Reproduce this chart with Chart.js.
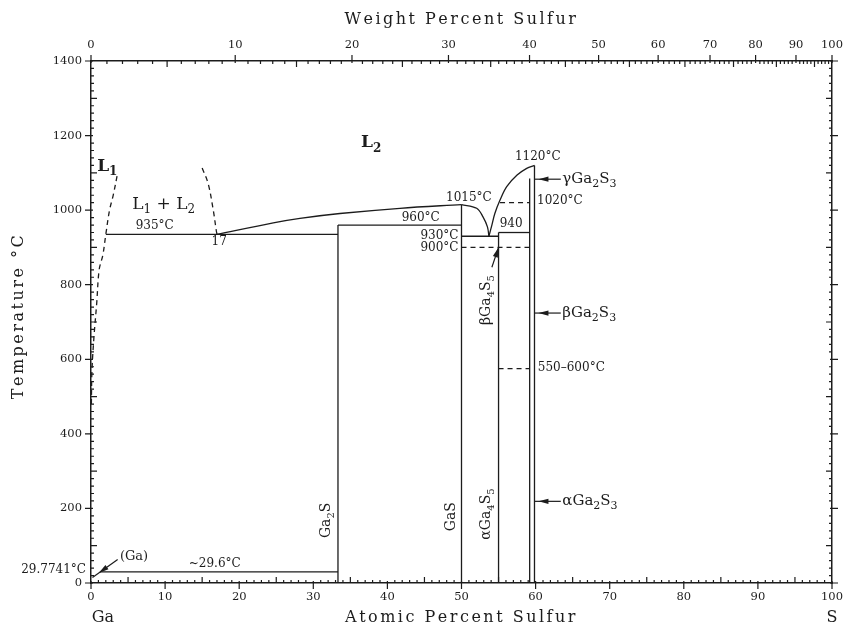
<!DOCTYPE html>
<html>
<head>
<meta charset="utf-8">
<script src="https://cdn.jsdelivr.net/npm/chart.js@4.4.1/dist/chart.umd.min.js"></script>
<style>
  html, body { margin: 0; padding: 0; background: #fff; }
  #wrap { width: 845px; height: 629px; }
</style>
</head>
<body>
<div id="wrap"><canvas id="chart"></canvas></div>
<script>
// Ga–S phase diagram, every point is [at.% S, temperature °C]

// liquid miscibility gap (dashed)
const l1Boundary = [[0.05, 480], [0.13, 570], [0.4, 660], [0.77, 750], [1.1, 840], [1.6, 880], [2.0, 935], [2.5, 1000], [3.0, 1040], [3.6, 1100]];
const l2Boundary = [[15.0, 1113], [15.8, 1072], [16.5, 1000], [16.9, 946], [17.0, 935]];

// liquidus branches
const liquidusGa2S = [[17.0, 935], [24.6, 966], [28.2, 978], [33.6, 991], [41.7, 1005], [50.0, 1015]];
const liquidusGaS = [[50.0, 1015], [52.05, 1005], [52.9, 982], [53.5, 955], [53.7, 930]];
const liquidusGa2S3 = [[53.7, 930], [54.1, 960], [54.5, 991], [55.2, 1027], [56.1, 1063], [57.5, 1094], [58.8, 1112], [59.85, 1120]];

// compounds
const ga2sLine = [[33.33, 0], [33.33, 960]];
const gasLine = [[50.0, 0], [50.0, 1015]];
const ga4s5Line = [[55.0, 0], [55.0, 940]];
const ga2s3Left = [[59.2, 0], [59.2, 1085]];
const ga2s3Right = [[59.85, 0], [59.85, 1120]];

// invariant reactions
const monotectic935 = [[2.0, 935], [33.33, 935]];
const peritectic960 = [[33.33, 960], [50.0, 960]];
const eutectic930 = [[50.0, 930], [55.0, 930]];
const peritectic940 = [[55.0, 940], [59.2, 940]];
const eutecticGa = [[1.2, 29.6], [33.33, 29.6]];

// polymorphic transitions (dashed)
const trans1020 = [[55.2, 1020], [59.2, 1020]];
const trans900 = [[50.0, 900], [59.2, 900]];
const trans575 = [[55.0, 575], [59.2, 575]];

// axis ticks
const tempTicks = [0, 200, 400, 600, 800, 1000, 1200, 1400];
const atomicTicks = [0, 10, 20, 30, 40, 50, 60, 70, 80, 90, 100];
const weightTicks = [0, 10, 20, 30, 40, 50, 60, 70, 80, 90, 100];

const M_S = 32.06, M_GA = 69.723;
const wtToAt = w => {
  if (w >= 100) return 100;
  const s = w / M_S, g = (100 - w) / M_GA;
  return 100 * s / (s + g);
};

const FONT = 'DejaVu Serif';
const INK = '#1c1c1c';

const seg = (pts, dashed, curved) => ({
  data: pts.map(([x, y]) => ({ x, y })),
  showLine: true,
  borderColor: INK,
  borderWidth: 1.3,
  borderDash: dashed ? [5, 4] : [],
  pointRadius: 0,
  tension: curved ? 0.35 : 0,
  fill: false
});

const datasets = [
  seg(l1Boundary, true, true),
  seg(l2Boundary, true, true),
  seg(liquidusGa2S, false, true),
  seg(liquidusGaS, false, true),
  seg(liquidusGa2S3, false, true),
  seg(ga2sLine), seg(gasLine), seg(ga4s5Line), seg(ga2s3Left), seg(ga2s3Right),
  seg(monotectic935), seg(peritectic960), seg(eutectic930), seg(peritectic940), seg(eutecticGa),
  seg(trans1020, true), seg(trans900, true), seg(trans575, true)
];

// temperature / reaction notes: text, at.% S, °C, alignment
const notes = [
  ['935°C', 8.6, 957, 'center'],
  ['17', 17.3, 916, 'center'],
  ['960°C', 44.5, 979, 'center'],
  ['1015°C', 51.0, 1033, 'center'],
  ['1120°C', 60.3, 1142, 'center'],
  ['930°C', 49.6, 930, 'right'],
  ['900°C', 49.6, 900, 'right'],
  ['940', 56.7, 963, 'center'],
  ['1020°C', 60.2, 1024, 'left'],
  ['550–600°C', 60.3, 576, 'left'],
  ['~29.6°C', 16.7, 50, 'center']
];

// phase names; "_" marks a subscript
const phases = [
  { text: 'L_1', x: 2.2, y: 1118, size: 17, bold: true, align: 'center' },
  { text: 'L_1 + L_2', x: 9.8, y: 1015, size: 17, align: 'center' },
  { text: 'L_2', x: 37.8, y: 1180, size: 17, bold: true, align: 'center' },
  { text: '(Ga)', x: 3.9, y: 72, size: 13, align: 'left' },
  { text: 'γGa_2S_3', x: 63.6, y: 1083, size: 15, align: 'left' },
  { text: 'βGa_2S_3', x: 63.6, y: 724, size: 15, align: 'left' },
  { text: 'αGa_2S_3', x: 63.6, y: 219, size: 15, align: 'left' },
  { text: 'Ga_2S', x: 31.8, y: 168, size: 14, align: 'center', vertical: true },
  { text: 'GaS', x: 48.6, y: 178, size: 14, align: 'center', vertical: true },
  { text: 'αGa_4S_5', x: 53.4, y: 185, size: 14, align: 'center', vertical: true },
  { text: 'βGa_4S_5', x: 53.4, y: 759, size: 14, align: 'center', vertical: true }
];

// pointer arrows: from, to, where the head tip sits along the shaft (0..1)
const arrows = [
  { from: [63.4, 1083], to: [59.85, 1083], tip: 0.85 },
  { from: [63.4, 724], to: [59.85, 724], tip: 0.85 },
  { from: [63.4, 219], to: [59.85, 219], tip: 0.85 },
  { from: [3.6, 63], to: [0.2, 15], tip: 0.75 },
  { from: [54.1, 847], to: [55.0, 900], tip: 1 }
];

function drawRich(ctx, text, x, y, size, align, bold) {
  const parts = [];
  for (let i = 0; i < text.length; i++) {
    if (text[i] === '_') { parts.push([text[i + 1], true]); i++; }
    else parts.push([text[i], false]);
  }
  const fontFor = sub => `${bold ? 'bold ' : ''}${sub ? Math.round(size * 0.72) : size}px "${FONT}"`;
  let w = 0;
  parts.forEach(([c, sub]) => { ctx.font = fontFor(sub); w += ctx.measureText(c).width; });
  let cx = align === 'center' ? x - w / 2 : align === 'right' ? x - w : x;
  ctx.textAlign = 'left';
  ctx.textBaseline = 'middle';
  parts.forEach(([c, sub]) => {
    ctx.font = fontFor(sub);
    ctx.fillText(c, cx, sub ? y + size * 0.32 : y);
    cx += ctx.measureText(c).width;
  });
}

const decorations = {
  id: 'decorations',
  afterDraw(chart) {
    const { ctx, chartArea: a, scales } = chart;
    const X = v => scales.x.getPixelForValue(v);
    const Y = v => scales.y.getPixelForValue(v);
    ctx.save();
    ctx.strokeStyle = INK;
    ctx.fillStyle = INK;

    // tick marks: majors point out, minors point in
    ctx.lineWidth = 1.2;
    ctx.beginPath();
    for (let v = 0; v <= 100; v++) {
      const px = X(v);
      const [o, i] = v % 10 === 0 ? [6, 2] : v % 5 === 0 ? [0, 6] : [0, 3];
      ctx.moveTo(px, a.bottom + o); ctx.lineTo(px, a.bottom - i);
      const pw = X(wtToAt(v));
      ctx.moveTo(pw, a.top - o); ctx.lineTo(pw, a.top + i);
    }
    for (let t = 0; t <= 1400; t += 20) {
      const py = Y(t);
      const [o, i] = t % 200 === 0 ? [6, 2] : t % 100 === 0 ? [0, 6] : [0, 3];
      ctx.moveTo(a.left - o, py); ctx.lineTo(a.left + i, py);
      ctx.moveTo(a.right + o, py); ctx.lineTo(a.right - i, py);
    }
    ctx.stroke();

    // arrows
    ctx.lineWidth = 1.2;
    arrows.forEach(({ from, to, tip }) => {
      const x0 = X(from[0]), y0 = Y(from[1]), x1 = X(to[0]), y1 = Y(to[1]);
      ctx.beginPath(); ctx.moveTo(x0, y0); ctx.lineTo(x1, y1); ctx.stroke();
      const ang = Math.atan2(y1 - y0, x1 - x0);
      const tx = x0 + (x1 - x0) * tip, ty = y0 + (y1 - y0) * tip;
      ctx.beginPath();
      ctx.moveTo(tx, ty);
      ctx.lineTo(tx - 10 * Math.cos(ang) + 2.6 * Math.sin(ang), ty - 10 * Math.sin(ang) - 2.6 * Math.cos(ang));
      ctx.lineTo(tx - 10 * Math.cos(ang) - 2.6 * Math.sin(ang), ty - 10 * Math.sin(ang) + 2.6 * Math.cos(ang));
      ctx.closePath(); ctx.fill();
    });

    // notes
    notes.forEach(([t, x, y, al]) => drawRich(ctx, t, X(x), Y(y), 12, al));
    drawRich(ctx, '29.7741°C', a.left - 5, Y(29.77) - 2, 12, 'right');

    // phase names
    phases.forEach(p => {
      if (p.vertical) {
        ctx.save();
        ctx.translate(X(p.x), Y(p.y));
        ctx.rotate(-Math.PI / 2);
        drawRich(ctx, p.text, 0, 0, p.size, p.align, p.bold);
        ctx.restore();
      } else {
        drawRich(ctx, p.text, X(p.x), Y(p.y), p.size, p.align, p.bold);
      }
    });

    // axis titles
    ctx.letterSpacing = '2.5px';
    drawRich(ctx, 'Weight Percent Sulfur', (a.left + a.right) / 2, 20, 16, 'center');
    drawRich(ctx, 'Atomic Percent Sulfur', (a.left + a.right) / 2, 618, 16, 'center');
    ctx.save();
    ctx.translate(19, 316);
    ctx.rotate(-Math.PI / 2);
    drawRich(ctx, 'Temperature °C', 0, 0, 16, 'center');
    ctx.restore();
    ctx.letterSpacing = '0px';
    drawRich(ctx, 'Ga', a.left + 12, 618, 16, 'center');
    drawRich(ctx, 'S', a.right, 618, 16, 'center');
    ctx.restore();
  }
};

const tickFont = { family: FONT, size: 11.5 };
const frame = { display: true, color: INK, width: 1.5 };
// keep label overhang from shrinking the plot area
const noSidePad = s => { s.paddingLeft = 0; s.paddingRight = 0; s.paddingTop = 0; s.paddingBottom = 0; };

new Chart(document.getElementById('chart'), {
  type: 'scatter',
  data: { datasets },
  options: {
    responsive: true,
    maintainAspectRatio: false,
    animation: false,
    layout: { padding: 0 },
    plugins: { legend: { display: false }, tooltip: { enabled: false } },
    scales: {
      x: {
        type: 'linear', position: 'bottom', min: 0, max: 100,
        afterBuildTicks: s => { s.ticks = atomicTicks.map(v => ({ value: v })); },
        ticks: { font: tickFont, color: INK, padding: 7, maxRotation: 0, autoSkip: false, callback: v => String(v) },
        grid: { display: false, drawTicks: false },
        border: frame,
        afterFit: s => { s.height = 46; noSidePad(s); }
      },
      xTop: {
        type: 'linear', position: 'top', min: 0, max: 100,
        afterBuildTicks: s => { s.ticks = weightTicks.map(w => ({ value: wtToAt(w) })); },
        ticks: { font: tickFont, color: INK, padding: 9, maxRotation: 0, autoSkip: false, callback: (v, i) => String(weightTicks[i]) },
        grid: { display: false, drawTicks: false },
        border: frame,
        afterFit: s => { s.height = 61; noSidePad(s); }
      },
      y: {
        type: 'linear', position: 'left', min: 0, max: 1400,
        afterBuildTicks: s => { s.ticks = tempTicks.map(v => ({ value: v })); },
        ticks: { font: tickFont, color: INK, padding: 9, callback: v => String(v) },
        grid: { display: false, drawTicks: false },
        border: frame,
        afterFit: s => { s.width = 91; noSidePad(s); }
      },
      yRight: {
        type: 'linear', position: 'right', min: 0, max: 1400,
        ticks: { display: false },
        grid: { display: false, drawTicks: false },
        border: frame,
        afterFit: s => { s.width = 13; noSidePad(s); }
      }
    }
  },
  plugins: [decorations]
});
</script>
</body>
</html>
